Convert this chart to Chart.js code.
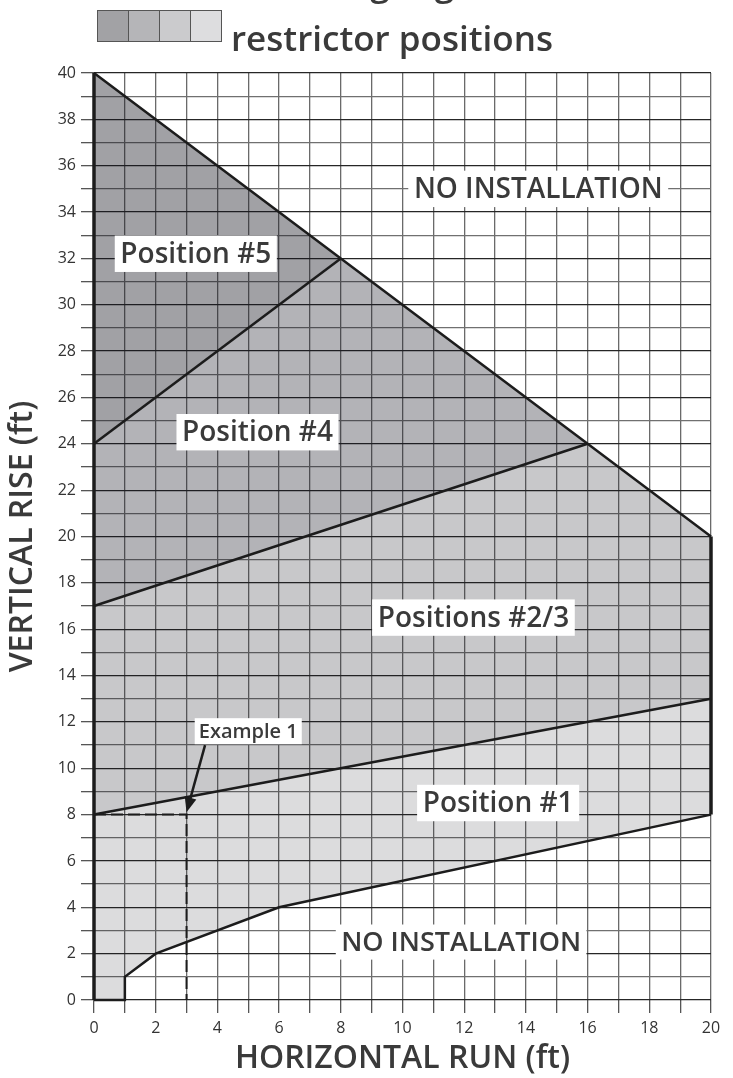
<!DOCTYPE html>
<html>
<head>
<meta charset="utf-8">
<script src="https://cdn.jsdelivr.net/npm/chart.js@4"></script>
<style>
  body { margin: 0; background: #fff; font-family: "Open Sans", sans-serif; }
  #wrap { position: relative; width: 733px; height: 1078px; overflow: hidden; }
  #chartBox { position: absolute; left: 0; top: 0; width: 733px; height: 1078px; }
  .head { position: absolute; color: #3a3a3a; font-weight: 600; white-space: nowrap; line-height: 1; }
  .swatches { position: absolute; left: 97px; top: 10px; display: flex; border: 1.5px solid #555; }
  .swatches span { width: 30px; height: 30px; border-right: 1.5px solid #555; }
  .swatches span:last-child { border-right: none; }
</style>
</head>
<body>
<div id="wrap">
  <div id="chartBox"><canvas id="myChart"></canvas></div>
  <div class="head" style="left:231px; top:-35px; font-size:35px;">Vent length guide and</div>
  <div class="swatches">
    <span style="background:#a2a2a5"></span>
    <span style="background:#b5b5b8"></span>
    <span style="background:#cbcbcd"></span>
    <span style="background:#dddddf"></span>
  </div>
  <div class="head" style="left:231px; top:20px; font-size:35px;">restrictor positions</div>
</div>
<script>
const ctx = document.getElementById('myChart').getContext('2d');

// zonas (poligonos) en pies
const pos5X = [0, 8, 0]
const pos5Y = [40, 32, 24]
const pos4X = [0, 8, 16, 0]
const pos4Y = [24, 32, 24, 17]
const pos23X = [0, 16, 20, 20, 0]
const pos23Y = [17, 24, 20, 13, 8]
const pos1X = [0, 20, 20, 6, 2, 1, 1, 0]
const pos1Y = [8, 13, 8, 4, 2, 1, 0, 0]

// lineas de borde
const topX = [0, 8, 16, 20]
const topY = [40, 32, 24, 20]
const linea5X = [0, 8]
const linea5Y = [24, 32]
const linea4X = [0, 16]
const linea4Y = [17, 24]
const linea23X = [0, 20]
const linea23Y = [8, 13]
const bajoX = [0, 1, 1, 2, 6, 20]
const bajoY = [0, 0, 1, 2, 4, 8]
const derechaX = [20, 20]
const derechaY = [8, 20]
const izquierdaX = [0, 0]
const izquierdaY = [0, 40]
const ejemploX = [0, 3, 3]
const ejemploY = [8, 8, 0]

// textos
const etiquetas = [
    { texto: 'NO INSTALLATION', x: 14.4, y: 35.0, size: 28 },
    { texto: 'Position #5', x: 3.3, y: 32.2, size: 28 },
    { texto: 'Position #4', x: 5.3, y: 24.5, size: 28 },
    { texto: 'Positions #2/3', x: 12.3, y: 16.5, size: 28 },
    { texto: 'Position #1', x: 13.1, y: 8.5, size: 28 },
    { texto: 'NO INSTALLATION', x: 11.9, y: 2.5, size: 27 },
    { texto: 'Example 1', x: 5.0, y: 11.6, size: 20 },
]
const flechaDesde = [3.6, 11.0]
const flechaHasta = [3.0, 8.1]

function puntos(xs, ys) {
    return xs.map((x, i) => ({ x: x, y: ys[i] }))
}

// relleno translucido para que la cuadricula se vea debajo
function zona(xs, ys, alfa) {
    return {
        data: puntos(xs, ys),
        showLine: true,
        fill: 'shape',
        backgroundColor: `rgba(20, 20, 30, ${alfa})`,
        borderWidth: 0,
        borderColor: 'rgba(0,0,0,0)',
        pointRadius: 0,
        order: 10
    }
}

function linea(xs, ys, ancho, dash) {
    return {
        data: puntos(xs, ys),
        showLine: true,
        fill: false,
        borderColor: '#1c1c1c',
        borderWidth: ancho,
        borderDash: dash || [],
        pointRadius: 0,
        clip: false,
        order: 1
    }
}

const etiquetasPlugin = {
    id: 'etiquetas',
    afterDraw(chart) {
        const c = chart.ctx
        const sx = chart.scales.x
        const sy = chart.scales.y

        // flecha
        const x1 = sx.getPixelForValue(flechaDesde[0]), y1 = sy.getPixelForValue(flechaDesde[1])
        const x2 = sx.getPixelForValue(flechaHasta[0]), y2 = sy.getPixelForValue(flechaHasta[1])
        const ang = Math.atan2(y2 - y1, x2 - x1)
        c.save()
        c.strokeStyle = '#1c1c1c'
        c.fillStyle = '#1c1c1c'
        c.lineWidth = 2.5
        c.beginPath()
        c.moveTo(x1, y1)
        c.lineTo(x2 - 10 * Math.cos(ang), y2 - 10 * Math.sin(ang))
        c.stroke()
        c.beginPath()
        c.moveTo(x2, y2)
        c.lineTo(x2 - 15 * Math.cos(ang) + 6 * Math.sin(ang), y2 - 15 * Math.sin(ang) - 6 * Math.cos(ang))
        c.lineTo(x2 - 15 * Math.cos(ang) - 6 * Math.sin(ang), y2 - 15 * Math.sin(ang) + 6 * Math.cos(ang))
        c.closePath()
        c.fill()

        c.textAlign = 'center'
        c.textBaseline = 'middle'
        etiquetas.forEach(e => {
            c.font = `600 ${e.size}px "Open Sans"`
            const px = sx.getPixelForValue(e.x)
            const py = sy.getPixelForValue(e.y)
            const w = c.measureText(e.texto).width + e.size * 0.4
            const h = e.size * 1.3
            c.fillStyle = '#fff'
            c.fillRect(px - w / 2, py - h / 2, w, h)
            c.fillStyle = '#3a3a3a'
            c.fillText(e.texto, px, py + 1)
        })
        c.restore()
    }
}

const render = new Chart(ctx, {
    type: 'scatter',
    data: {
        datasets: [
            zona(pos5X, pos5Y, 0.40),
            zona(pos4X, pos4Y, 0.32),
            zona(pos23X, pos23Y, 0.235),
            zona(pos1X, pos1Y, 0.15),
            linea(topX, topY, 2.5),
            linea(linea5X, linea5Y, 2.5),
            linea(linea4X, linea4Y, 2.5),
            linea(linea23X, linea23Y, 2.5),
            linea(bajoX, bajoY, 2.5),
            linea(derechaX, derechaY, 3.5),
            linea(izquierdaX, izquierdaY, 3.5),
            linea(ejemploX, ejemploY, 2, [12, 5]),
        ]
    },
    options: {
        responsive: true,
        maintainAspectRatio: false,
        animation: false,
        layout: { padding: { left: 0, top: 73, right: 22, bottom: 0 } },
        plugins: { legend: { display: false }, tooltip: { enabled: false } },
        scales: {
            x: {
                type: 'linear', min: 0, max: 20,
                afterFit: (s) => { s.height = 78 },
                border: { display: false },
                grid: { color: '#6a6a6a', lineWidth: 1.3, tickLength: 13, tickColor: '#555' },
                ticks: {
                    stepSize: 1, color: '#333', padding: 6,
                    font: { family: 'Open Sans', size: 16 },
                    callback: (v) => v % 2 === 0 ? v : ''
                },
                title: {
                    display: true, text: 'HORIZONTAL RUN (ft)', color: '#3a3a3a',
                    font: { family: 'Open Sans', size: 32, weight: '600' }, padding: { top: 0, bottom: 0 }
                }
            },
            y: {
                type: 'linear', min: 0, max: 40,
                afterFit: (s) => { s.width = 94 },
                border: { display: false },
                grid: {
                    color: (c) => c.tick && c.tick.value % 2 === 0 ? '#262626' : '#707070',
                    lineWidth: 1.3, tickLength: 13, tickColor: '#555'
                },
                ticks: {
                    stepSize: 1, color: '#333', padding: 5,
                    font: { family: 'Open Sans', size: 16 },
                    callback: (v) => v % 2 === 0 ? v : ''
                },
                title: {
                    display: true, text: 'VERTICAL RISE (ft)', color: '#3a3a3a',
                    font: { family: 'Open Sans', size: 32, weight: '600' }, padding: { top: 4, bottom: 0 }
                }
            }
        }
    },
    plugins: [etiquetasPlugin]
});
</script>
</body>
</html>
